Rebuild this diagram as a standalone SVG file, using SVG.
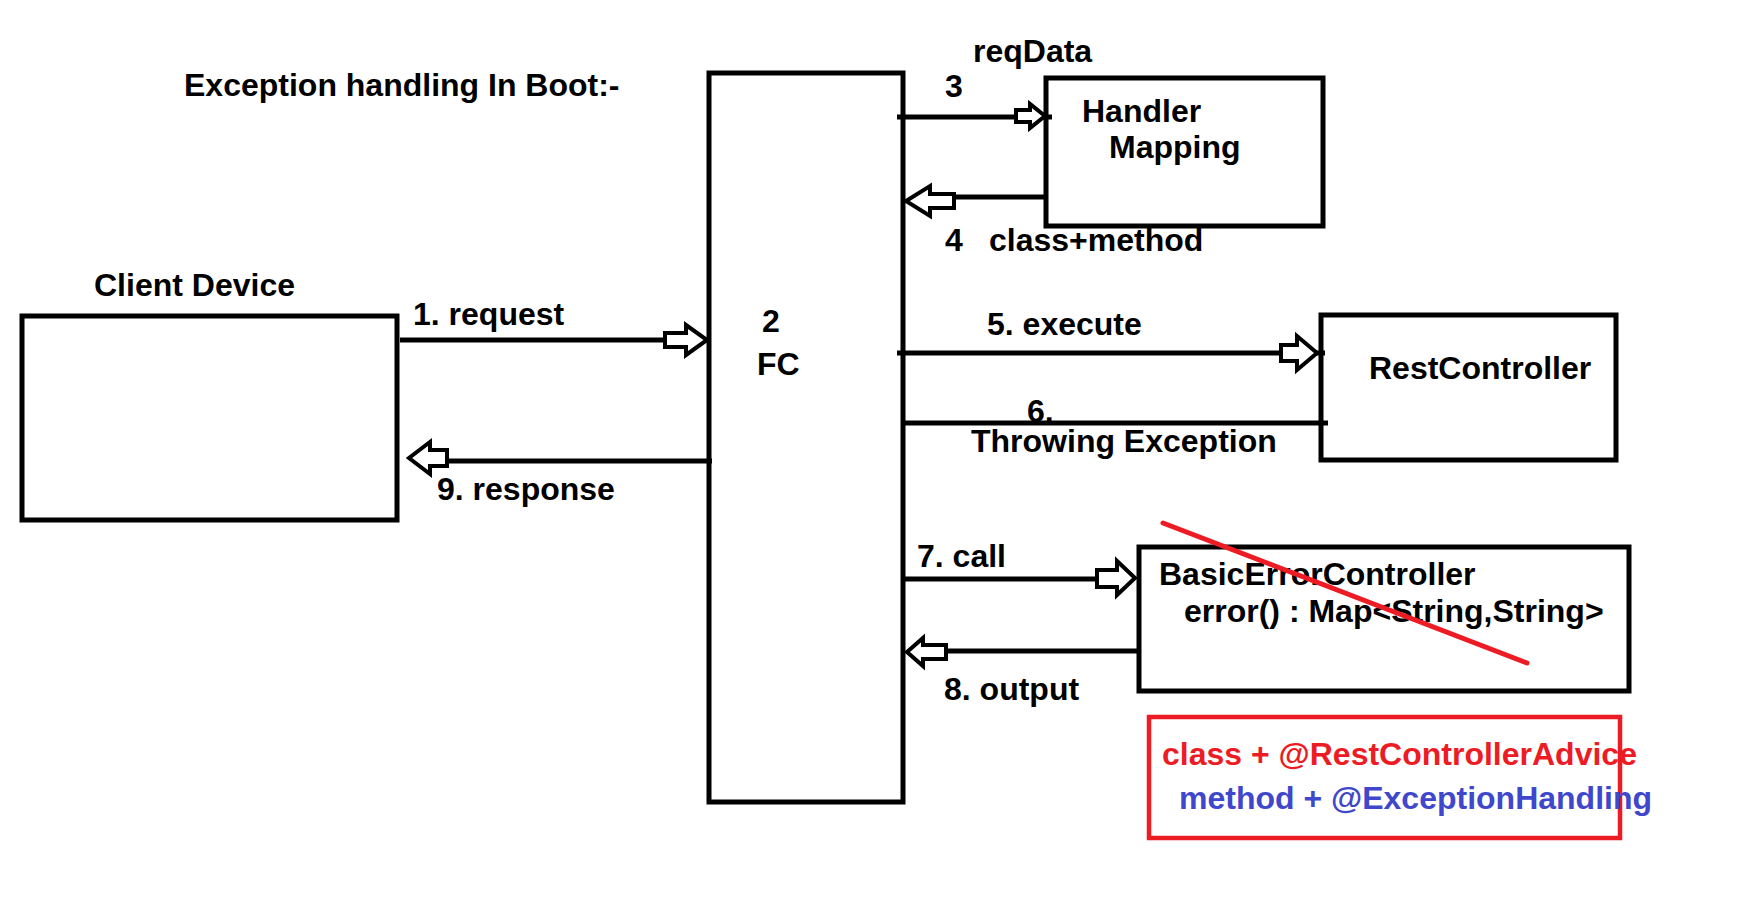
<svg xmlns="http://www.w3.org/2000/svg" width="1750" height="904" viewBox="0 0 1750 904">
  <style>
    .box { fill: none; stroke: #000; stroke-width: 5; }
    .ln { stroke: #000; stroke-width: 5; fill: none; }
    .arr { fill: #fff; stroke: #000; stroke-width: 4; stroke-linejoin: miter; }
    text { font-family: "Liberation Sans", Arial, sans-serif; font-weight: bold; font-size: 32px; fill: #000; }
    .red { fill: #ED1C24; }
    .blue { fill: #3F48CC; }
  </style>
  <rect x="0" y="0" width="1750" height="904" fill="#fff"/>

  <text id="title" x="184" y="96">Exception handling In Boot:-</text>

  <g id="client">
    <rect class="box" x="22" y="316" width="375" height="204"/>
    <text x="94" y="296">Client Device</text>
  </g>

  <g id="fc">
    <rect class="box" x="709" y="73" width="194" height="729"/>
    <text x="762" y="332">2</text>
    <text x="757" y="375">FC</text>
  </g>

  <g id="handler-mapping">
    <rect class="box" x="1046" y="78" width="277" height="148"/>
    <text x="1082" y="122">Handler</text>
    <text x="1109" y="158">Mapping</text>
  </g>

  <g id="rest-controller">
    <rect class="box" x="1321" y="315" width="295" height="145"/>
    <text x="1369" y="379">RestController</text>
  </g>

  <g id="basic-error-controller">
    <rect class="box" x="1139" y="547" width="490" height="144"/>
    <text x="1159" y="585">BasicErrorController</text>
    <text x="1184" y="622">error() : Map&lt;String,String&gt;</text>
    <line x1="1163" y1="523" x2="1527" y2="663" stroke="#ED1C24" stroke-width="5" stroke-linecap="round"/>
  </g>

  <g id="advice">
    <rect x="1149" y="717" width="471" height="121" fill="none" stroke="#ED1C24" stroke-width="4.5"/>
    <text class="red" x="1162" y="765">class + @RestControllerAdvice</text>
    <text class="blue" x="1179" y="809">method + @ExceptionHandling</text>
  </g>

  <g id="connectors">
    <!-- 1. request -->
    <line class="ln" x1="400" y1="340" x2="667" y2="340"/>
    <polygon class="arr" points="665,333 686,333 686,325 707,340 686,355 686,347 665,347"/>
    <text x="413" y="325">1. request</text>

    <!-- 3 reqData -->
    <line class="ln" x1="897" y1="117" x2="1052" y2="117"/>
    <polygon class="arr" points="1016,110 1030,110 1030,104 1045,116 1030,128 1030,122 1016,122"/>
    <text x="973" y="62">reqData</text>
    <text x="945" y="97">3</text>

    <!-- 4 class+method -->
    <line class="ln" x1="952" y1="197" x2="1046" y2="197"/>
    <polygon class="arr" points="954,194 930,194 930,186 906,201 930,216 930,208 954,208"/>
    <text x="945" y="251">4</text>
    <text x="989" y="251">class+method</text>

    <!-- 5 execute -->
    <line class="ln" x1="897" y1="353" x2="1325" y2="353"/>
    <polygon class="arr" points="1281,345 1297,345 1297,336 1317,353 1297,370 1297,361 1281,361"/>
    <text x="987" y="335">5. execute</text>

    <!-- 6 Throwing Exception -->
    <line class="ln" x1="905" y1="423" x2="1328" y2="423"/>
    <text x="1027" y="422">6.</text>
    <text x="971" y="452">Throwing Exception</text>

    <!-- 7 call -->
    <line class="ln" x1="903" y1="579" x2="1099" y2="579"/>
    <polygon class="arr" points="1097,570 1117,570 1117,561 1135,578 1117,595 1117,587 1097,587"/>
    <text x="917" y="567">7. call</text>

    <!-- 8 output -->
    <line class="ln" x1="944" y1="651" x2="1139" y2="651"/>
    <polygon class="arr" points="946,645 923,645 923,638 907,652 923,666 923,659 946,659"/>
    <text x="944" y="700">8. output</text>

    <!-- 9 response -->
    <line class="ln" x1="445" y1="461" x2="712" y2="461"/>
    <polygon class="arr" points="447,450 430,450 430,442 409,458 430,474 430,466 447,466"/>
    <text x="437" y="500">9. response</text>
  </g>
</svg>
